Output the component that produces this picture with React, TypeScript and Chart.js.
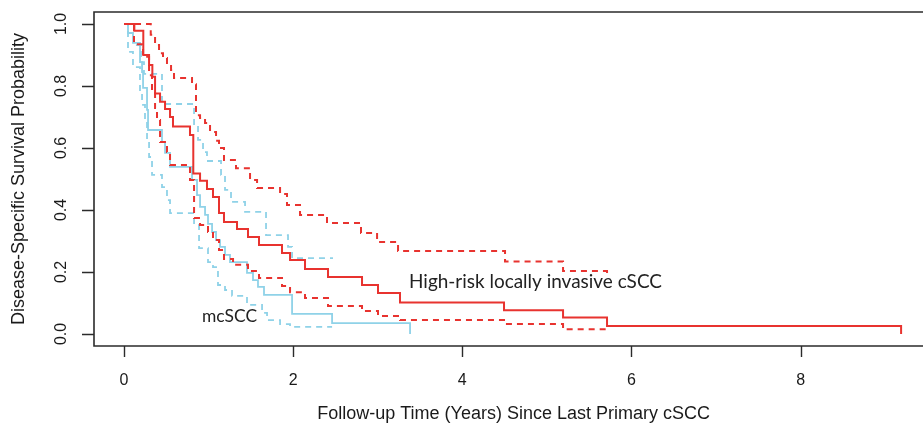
import React, { useEffect, useRef } from "react";
import { Chart, registerables } from "chart.js";

Chart.register(...registerables);

// ---- axis ticks ----
const xTickValues = [0, 2, 4, 6, 8];
const xTickLabels = ["0", "2", "4", "6", "8"];
const yTickValues = [0, 0.2, 0.4, 0.6, 0.8, 1.0];
const yTickLabels = ["0.0", "0.2", "0.4", "0.6", "0.8", "1.0"];

const xTitle = "Follow-up Time (Years) Since Last Primary cSCC";
const yTitle = "Disease-Specific Survival Probability";

// ---- High-risk locally invasive cSCC (red) ----
const hrTimes = [0, 0.122, 0.228, 0.296, 0.335, 0.367, 0.426, 0.485, 0.544, 0.579, 0.78, 0.819, 0.899, 0.981, 1.052, 1.123, 1.182, 1.336, 1.466, 1.596, 1.868, 1.963, 2.14, 2.412, 2.814, 3.003, 3.263, 4.493, 5.191, 5.711, 9.188];
const hrSurv = [1, 0.978, 0.9, 0.868, 0.83, 0.776, 0.749, 0.726, 0.7, 0.669, 0.642, 0.518, 0.494, 0.468, 0.442, 0.39, 0.361, 0.339, 0.313, 0.287, 0.261, 0.239, 0.21, 0.184, 0.158, 0.132, 0.102, 0.077, 0.053, 0.026, 0];

const hrUpperTimes = [0, 0.316, 0.367, 0.414, 0.461, 0.508, 0.556, 0.591, 0.804, 0.851, 0.899, 0.958, 1.017, 1.088, 1.123, 1.182, 1.324, 1.49, 1.573, 1.845, 1.927, 2.081, 2.4, 2.802, 2.992, 3.24, 4.505, 5.191, 5.711, 5.711];
const hrUpper = [1, 0.965, 0.932, 0.906, 0.89, 0.874, 0.852, 0.826, 0.806, 0.706, 0.697, 0.681, 0.652, 0.623, 0.6, 0.561, 0.535, 0.497, 0.471, 0.452, 0.416, 0.384, 0.358, 0.326, 0.297, 0.268, 0.234, 0.203, 0.203, 0.194];

const hrLowerTimes = [0, 0.118, 0.225, 0.296, 0.331, 0.367, 0.39, 0.426, 0.508, 0.544, 0.78, 0.828, 0.899, 0.993, 1.052, 1.123, 1.182, 1.289, 1.466, 1.596, 1.868, 1.963, 2.14, 2.412, 2.814, 3.003, 3.263, 4.493, 5.191, 5.711];
const hrLower = [1, 0.935, 0.894, 0.835, 0.787, 0.729, 0.69, 0.619, 0.587, 0.545, 0.497, 0.374, 0.352, 0.329, 0.303, 0.271, 0.242, 0.223, 0.203, 0.181, 0.155, 0.135, 0.116, 0.09, 0.074, 0.058, 0.045, 0.032, 0.015, 0.015];

// ---- mcSCC (light blue) ----
const mcTimes = [0, 0.047, 0.106, 0.189, 0.213, 0.225, 0.272, 0.284, 0.449, 0.485, 0.544, 0.804, 0.863, 0.899, 0.958, 0.993, 1.041, 1.088, 1.135, 1.194, 1.253, 1.454, 1.525, 1.584, 1.655, 1.987, 2.46, 3.382];
const mcSurv = [1, 0.971, 0.939, 0.877, 0.845, 0.794, 0.723, 0.658, 0.619, 0.584, 0.539, 0.497, 0.448, 0.41, 0.384, 0.355, 0.329, 0.303, 0.281, 0.255, 0.232, 0.197, 0.174, 0.152, 0.126, 0.065, 0.035, 0];

const mcUpperTimes = [0, 0.118, 0.201, 0.236, 0.449, 0.828, 0.875, 0.934, 0.981, 1.147, 1.194, 1.265, 1.431, 1.679, 1.939, 1.987, 2.471];
const mcUpper = [1, 0.932, 0.877, 0.839, 0.742, 0.674, 0.626, 0.587, 0.558, 0.513, 0.465, 0.426, 0.394, 0.319, 0.281, 0.245, 0.245];

const mcLowerTimes = [0, 0.047, 0.106, 0.189, 0.213, 0.248, 0.272, 0.296, 0.331, 0.449, 0.508, 0.544, 0.828, 0.887, 0.993, 1.052, 1.111, 1.194, 1.277, 1.454, 1.632, 1.691, 1.845, 1.963, 2.46];
const mcLower = [1, 0.91, 0.861, 0.777, 0.739, 0.69, 0.626, 0.571, 0.513, 0.474, 0.432, 0.39, 0.352, 0.277, 0.232, 0.216, 0.158, 0.142, 0.123, 0.094, 0.068, 0.045, 0.032, 0.023, 0.023];

// ---- curve labels ----
const curveLabels = ["High-risk locally invasive cSCC", "mcSCC"];
const curveLabelX = [3.37, 0.922];
const curveLabelY = [0.168, 0.058];
const curveLabelWidths = [253, 55];

const RED = "#e8332f";
const BLUE = "#8fd2e8";
const AXIS = "#2b2b2b";

function toPoints(ts: number[], ss: number[]) {
  return ts.map((t, i) => ({ x: t, y: ss[i] }));
}

const framePlugin = {
  id: "rframe",
  afterDatasetsDraw(chart: any) {
    const ctx = chart.ctx as CanvasRenderingContext2D;
    const area = chart.chartArea;
    const xs = chart.scales.x;
    const ys = chart.scales.y;
    ctx.save();
    // box (right side lies outside the visible picture)
    ctx.strokeStyle = AXIS;
    ctx.lineWidth = 1.6;
    ctx.beginPath();
    ctx.moveTo(chart.width + 5, area.top);
    ctx.lineTo(area.left, area.top);
    ctx.lineTo(area.left, area.bottom);
    ctx.lineTo(chart.width + 5, area.bottom);
    ctx.stroke();

    // ticks
    ctx.lineWidth = 1.4;
    ctx.beginPath();
    xTickValues.forEach((v) => {
      const px = Math.round(xs.getPixelForValue(v)) + 0.5;
      ctx.moveTo(px, area.bottom);
      ctx.lineTo(px, area.bottom + 11);
    });
    yTickValues.forEach((v) => {
      const py = Math.round(ys.getPixelForValue(v)) + 0.5;
      ctx.moveTo(area.left, py);
      ctx.lineTo(area.left - 12, py);
    });
    ctx.stroke();

    // tick labels
    ctx.fillStyle = "#1a1a1a";
    ctx.font = "16px 'Liberation Sans', Arial, sans-serif";
    ctx.textAlign = "center";
    ctx.textBaseline = "middle";
    xTickValues.forEach((v, i) => {
      ctx.fillText(xTickLabels[i], xs.getPixelForValue(v), 381);
    });
    yTickValues.forEach((v, i) => {
      ctx.save();
      ctx.translate(62, ys.getPixelForValue(v));
      ctx.rotate(-Math.PI / 2);
      ctx.fillText(yTickLabels[i], 0, 0);
      ctx.restore();
    });

    // axis titles
    ctx.font = "18px 'Liberation Sans', Arial, sans-serif";
    ctx.fillText(xTitle, (area.left + xs.getPixelForValue(9.568)) / 2, 414);
    ctx.save();
    ctx.translate(19, (area.top + area.bottom) / 2);
    ctx.rotate(-Math.PI / 2);
    ctx.fillText(yTitle, 0, 0);
    ctx.restore();

    // curve labels
    ctx.fillStyle = "#222222";
    ctx.textAlign = "left";
    curveLabels.forEach((lab, i) => {
      ctx.font = "20px Lato, 'Open Sans', sans-serif";
      const w = ctx.measureText(lab).width;
      const size = (20 * curveLabelWidths[i]) / w;
      ctx.font = `${size.toFixed(2)}px Lato, 'Open Sans', sans-serif`;
      ctx.fillText(lab, xs.getPixelForValue(curveLabelX[i]), ys.getPixelForValue(curveLabelY[i]));
    });
    ctx.restore();
  },
};

export default function App() {
  const ref = useRef<HTMLCanvasElement | null>(null);
  useEffect(() => {
    if (!ref.current) return;
    const common = { pointRadius: 0, stepped: "before" as const, fill: false, tension: 0 };
    const chart = new Chart(ref.current, {
      type: "line",
      data: {
        datasets: [
          { ...common, label: "High-risk", data: toPoints(hrTimes, hrSurv), borderColor: RED, borderWidth: 2 },
          { ...common, label: "High-risk upper", data: toPoints(hrUpperTimes, hrUpper), borderColor: RED, borderWidth: 2, borderDash: [6, 5] },
          { ...common, label: "High-risk lower", data: toPoints(hrLowerTimes, hrLower), borderColor: RED, borderWidth: 2, borderDash: [6, 5] },
          { ...common, label: "mcSCC", data: toPoints(mcTimes, mcSurv), borderColor: BLUE, borderWidth: 1.8 },
          { ...common, label: "mcSCC upper", data: toPoints(mcUpperTimes, mcUpper), borderColor: BLUE, borderWidth: 1.8, borderDash: [6, 5] },
          { ...common, label: "mcSCC lower", data: toPoints(mcLowerTimes, mcLower), borderColor: BLUE, borderWidth: 1.8, borderDash: [6, 5] },
        ],
      },
      options: {
        animation: false,
        responsive: false,
        maintainAspectRatio: false,
        layout: { padding: { left: 94, top: 12, right: 0, bottom: 85 } },
        plugins: { legend: { display: false }, tooltip: { enabled: false } },
        scales: {
          x: { type: "linear", min: -0.355, max: 9.447, display: false },
          y: { type: "linear", min: -0.0387, max: 1.0387, display: false },
        },
      },
      plugins: [framePlugin],
    });
    return () => chart.destroy();
  }, []);
  return (
    <div style={{ position: "fixed", left: 0, top: 0, width: 923, height: 431, background: "#fff" }}>
      <canvas ref={ref} width={923} height={431} style={{ display: "block", width: 923, height: 431 }} />
    </div>
  );
}
